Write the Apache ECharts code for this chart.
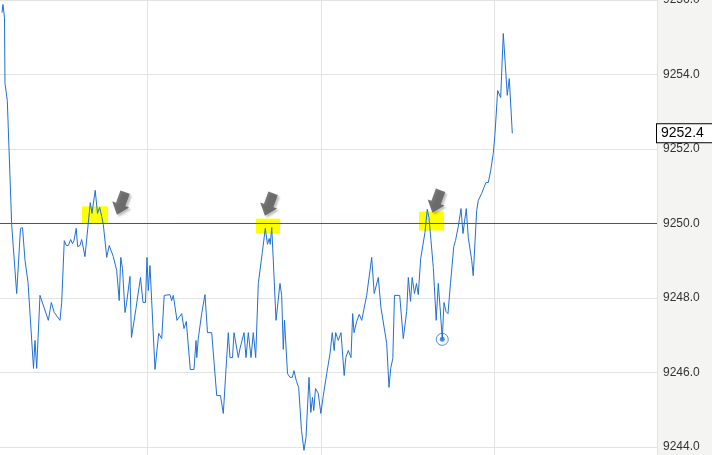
<!DOCTYPE html>
<html>
<head>
<meta charset="utf-8">
<script src="https://cdn.jsdelivr.net/npm/echarts@6/dist/echarts.min.js"></script>
<style>html,body{margin:0;padding:0;background:#fff}#c{width:712px;height:455px}</style>
</head>
<body>
<div id="c"></div>
<script>
// tick times (minutes) and prices
var times = [4.84,5.01,5.27,5.36,5.76,6.52,7.38,8.04,8.39,8.82,
9.34,10.29,10.55,10.84,11.41,12.85,13.37,13.88,14.87,15.16,
15.34,15.61,15.96,16.31,16.72,17.03,17.29,17.67,17.93,18.33,
18.62,19.19,20.11,20.40,20.96,21.35,21.73,22.08,22.36,22.95,
23.38,24.09,24.67,25.11,25.38,25.68,26.11,26.40,26.68,26.97,
27.23,28.01,28.79,29.22,29.65,29.91,30.14,30.43,31.30,31.94,
32.46,32.89,33.89,34.18,34.46,35.10,35.91,36.31,36.71,37.40,
38.04,38.39,38.52,38.78,39.37,39.94,40.37,41.10,41.97,42.62,
43.11,43.52,43.97,44.26,44.70,44.96,45.70,45.99,46.69,47.03,
47.43,47.90,48.29,48.71,49.16,49.45,49.85,50.37,50.75,51.04,
51.22,51.48,51.75,52.22,52.91,53.20,53.48,53.69,54.21,54.64,
55.04,55.33,55.76,56.14,56.63,57.06,57.41,57.93,58.24,58.53,
58.75,59.05,59.53,59.97,60.40,60.99,61.56,61.95,62.28,62.54,
62.99,63.46,64.01,64.29,64.72,65.19,65.48,65.71,66.17,66.62,
67.04,67.35,67.90,68.77,69.20,69.91,70.37,71.36,71.76,72.05,
72.42,72.71,73.61,74.23,74.82,75.10,75.48,75.77,76.17,76.51,
76.82,77.24,77.58,77.98,78.38,78.67,79.02,79.42,79.92,80.28,
80.58,80.97,81.27,81.61,81.96,82.39,82.96,83.26,83.74,84.21,
84.55,85.12,85.47,86.06,86.32,86.92,87.20,87.79,88.18,88.53,
88.93,89.34,89.79,90.09,90.38,90.55,90.83,91.07,91.52,92.21,92.56,93.08];

var prices = [9255.66,9255.88,9255.53,9253.76,9253.30,9249.95,9248.12,9249.87,9249.89,9249.01,
9248.42,9246.11,9246.86,9246.11,9248.07,9247.40,9247.88,9247.61,9247.40,9247.88,
9247.88,9249.54,9249.41,9249.41,9249.57,9249.46,9249.54,9249.87,9249.38,9249.41,
9249.57,9249.11,9250.56,9250.27,9250.89,9250.27,9250.43,9250.19,9249.97,9249.09,
9249.41,9249.11,9248.74,9247.93,9249.09,9248.79,9247.61,9247.88,9247.88,9248.58,
9246.94,9247.72,9248.55,9247.88,9247.88,9249.09,9248.20,9248.87,9246.08,9247.05,
9246.91,9248.07,9248.09,9247.93,9248.07,9247.40,9247.58,9247.18,9247.37,9246.08,
9246.08,9246.86,9246.40,9246.91,9247.58,9248.09,9247.07,9247.07,9245.38,9245.38,
9244.90,9245.95,9247.07,9246.40,9246.40,9247.07,9246.40,9246.64,9247.07,9246.40,
9247.07,9246.40,9247.07,9246.40,9248.39,9248.39,9249.22,9249.87,9249.44,9249.60,
9249.44,9249.89,9249.01,9247.40,9248.39,9248.07,9246.62,9247.40,9245.97,9245.87,
9245.87,9246.05,9245.76,9245.60,9244.44,9243.91,9244.26,9245.87,9244.93,9245.33,
9244.98,9245.57,9245.44,9244.90,9245.38,9245.97,9246.51,9247.07,9246.59,9247.07,
9246.86,9247.07,9245.92,9246.40,9246.59,9246.40,9247.58,9247.07,9247.37,9247.56,
9247.40,9247.40,9248.07,9249.09,9248.12,9248.55,9247.74,9246.78,9245.60,9246.11,
9246.38,9248.07,9248.07,9246.91,9247.64,9248.55,9247.91,9248.55,9248.12,9248.39,
9248.09,9249.06,9249.11,9249.76,9250.38,9250.16,9249.54,9248.82,9247.40,9248.39,
9247.77,9246.89,9247.88,9247.64,9247.58,9248.39,9249.38,9249.54,9249.92,9250.40,
9249.73,9250.40,9249.62,9249.01,9248.60,9250.35,9250.62,9250.81,9250.97,9251.10,
9251.10,9251.42,9251.88,9252.42,9252.42,9253.57,9253.62,9253.38,9255.10,9253.44,9253.89,9252.42];

var refLevel = 9250.0;
var markerIndex = 171;

// yellow highlight boxes
var hlStart = [18.67, 48.76, 76.95];
var hlEnd   = [23.17, 52.91, 81.27];
var hlLow   = [9250.00, 9249.73, 9249.81];
var hlHigh  = [9250.46, 9250.13, 9250.32];

// arrow annotations
var arrowTimes  = [25.42, 51.01, 79.97];
var arrowPrices = [9250.54, 9250.51, 9250.59];

var yTickMin = 9244, yTickMax = 9256, xTickStep = 30;
var xMin = 0, xMax = 118.1;

var lineColor = '#2070d8';
var refColor = '#c8201e';
var lineData = times.map(function (t, i) { return [t, prices[i]]; });
var last = prices[prices.length - 1];

var areas = hlStart.map(function (s, i) {
  return [{ coord: [s, hlLow[i]] }, { coord: [hlEnd[i], hlHigh[i]] }];
});
var arrowData = arrowTimes.map(function (t, i) { return [t, arrowPrices[i]]; });

var chart = echarts.init(document.getElementById('c'), null, { renderer: 'canvas' });
chart.setOption({
  animation: false,
  backgroundColor: '#ffffff',
  graphic: [{
    type: 'rect', right: 0, top: 0, z: -10,
    shape: { width: 55, height: 455 },
    style: { fill: '#f4f4f2' }
  }],
  grid: { left: -26, right: 55, top: 0, bottom: 0, containLabel: false, outerBoundsMode: 'none' },
  xAxis: {
    type: 'value', min: xMin, max: xMax, interval: xTickStep,
    axisLine: { show: false }, axisTick: { show: false }, axisLabel: { show: false },
    splitLine: { show: true, lineStyle: { color: '#e3e3e3', width: 1 } }
  },
  yAxis: {
    type: 'value', position: 'right',
    min: function () { return 9243.785; }, max: yTickMax, splitNumber: 6,
    axisLine: { show: true, lineStyle: { color: '#dcdcdc' } },
    axisTick: { show: false },
    axisLabel: {
      show: true, margin: 6, color: '#333', fontSize: 12,
      fontFamily: 'Liberation Sans, Arial, sans-serif',
      showMinLabel: false,
      formatter: function (v) { return (v >= yTickMin - 0.001) ? v.toFixed(1) : ''; }
    },
    splitLine: { show: true, lineStyle: { color: '#e3e3e3', width: 1 } }
  },
  series: [
    {
      name: 'ref', type: 'line', z: 2, silent: true, showSymbol: false,
      data: [[xMin, refLevel], [xMax, refLevel]],
      lineStyle: { color: refColor, width: 1, type: 'solid' },
      itemStyle: { color: refColor }
    },
    {
      type: 'line', data: lineData, showSymbol: false, clip: false, z: 3,
      lineStyle: { color: lineColor, width: 1 },
      itemStyle: { color: lineColor },
      markArea: {
        silent: true,
        itemStyle: { color: '#ffff00', opacity: 1 },
        data: areas
      }
    },
    {
      type: 'scatter', z: 4, silent: true,
      data: [
        { value: [times[markerIndex], prices[markerIndex]], symbolSize: 12,
          itemStyle: { color: 'rgba(255,255,255,0)', borderColor: lineColor, borderWidth: 1 } },
        { value: [times[markerIndex], prices[markerIndex]], symbolSize: 5,
          itemStyle: { color: lineColor } }
      ],
      markLine: {
        silent: true, symbol: 'none',
        lineStyle: { color: 'rgba(0,0,0,0)', width: 1 },
        label: {
          show: true, position: 'end', distance: 0,
          formatter: last.toFixed(1),
          color: '#000', fontSize: 14, fontFamily: 'Liberation Sans, Arial, sans-serif',
          backgroundColor: '#fff', borderColor: '#000', borderWidth: 1,
          padding: [2, 10, 2, 4]
        },
        data: [ { yAxis: last } ]
      }
    },
    {
      type: 'scatter', z: 5, silent: true,
      data: arrowData,
      symbol: 'path://M4,0 L14,0 L14,12 L18,12 L9,22 L0,12 L4,12 Z',
      symbolSize: [18, 24],
      symbolRotate: -20,
      itemStyle: {
        color: '#555555',
        shadowColor: 'rgba(0,0,0,0.3)', shadowBlur: 2, shadowOffsetX: 2, shadowOffsetY: 2
      }
    }
  ]
});
</script>
</body>
</html>
